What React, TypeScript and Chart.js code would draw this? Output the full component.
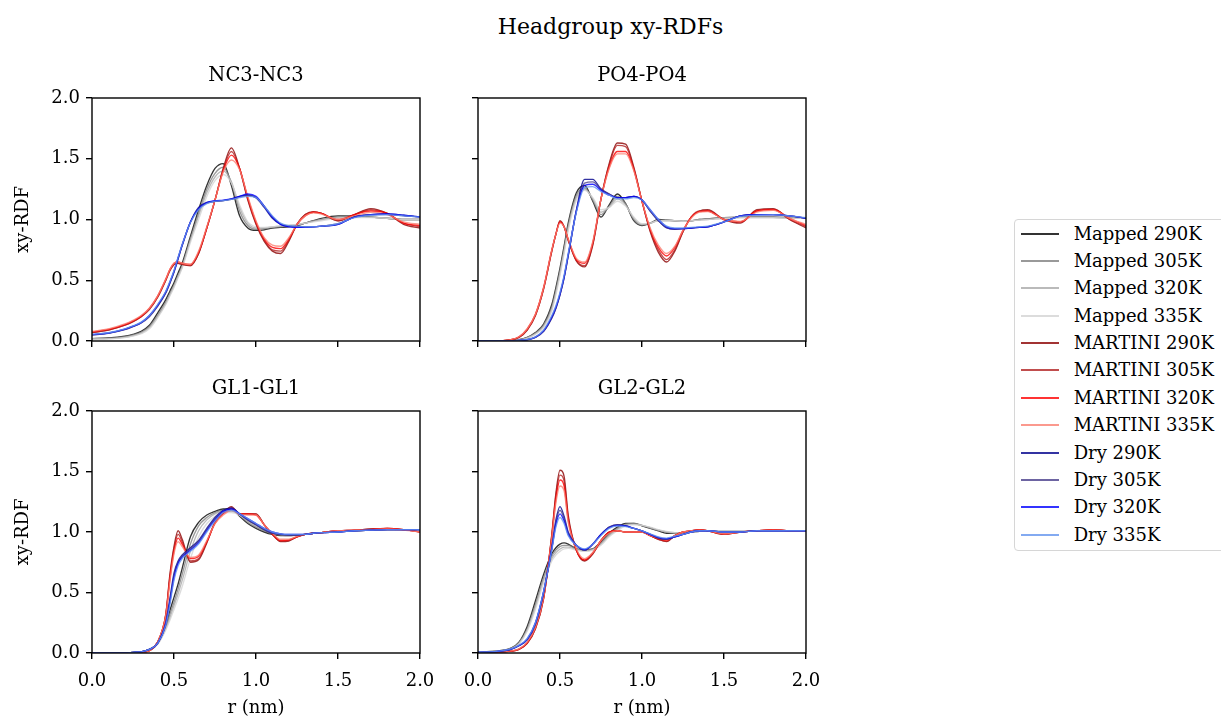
import React, { useEffect, useRef } from 'react';
import { Chart, registerables } from 'chart.js';

Chart.register(...registerables);

const FONT = "'DejaVu Serif', serif";
Chart.defaults.font.family = FONT;

// ---------- DATA ----------
const R = [0, 0.1, 0.2, 0.25, 0.3, 0.35, 0.4, 0.45, 0.475, 0.5, 0.525, 0.55, 0.6, 0.65, 0.7, 0.75, 0.8, 0.85, 0.9, 0.95, 1.0, 1.05, 1.1, 1.15, 1.2, 1.25, 1.3, 1.35, 1.4, 1.5, 1.6, 1.7, 1.8, 1.9, 2.0];

const X_TICKS = [0, 0.5, 1.0, 1.5, 2.0];
const Y_TICKS = [0, 0.5, 1.0, 1.5, 2.0];

const PANEL_TITLES = ['NC3-NC3', 'PO4-PO4', 'GL1-GL1', 'GL2-GL2'];
const SUPTITLE = 'Headgroup xy-RDFs';
const X_LABEL = 'r (nm)';
const Y_LABEL = 'xy-RDF';

const SERIES_LABELS = [
  'Mapped 290K', 'Mapped 305K', 'Mapped 320K', 'Mapped 335K',
  'MARTINI 290K', 'MARTINI 305K', 'MARTINI 320K', 'MARTINI 335K',
  'Dry 290K', 'Dry 305K', 'Dry 320K', 'Dry 335K',
];
const SERIES_COLORS = [
  'rgba(0,0,0,0.8)', 'rgba(128,128,128,0.8)', 'rgba(169,169,169,0.8)', 'rgba(211,211,211,0.8)',
  'rgba(139,0,0,0.8)', 'rgba(178,34,34,0.8)', 'rgba(255,0,0,0.8)', 'rgba(250,128,114,0.8)',
  'rgba(0,0,139,0.8)', 'rgba(72,61,139,0.8)', 'rgba(0,0,255,0.8)', 'rgba(100,149,237,0.8)',
];

// NC3-NC3
const NC3_MAPPED_290 = [0.02,0.025,0.04,0.055,0.08, 0.13,0.23,0.34,0.41,0.48, 0.56,0.64,0.86,1.08,1.28, 1.42,1.46,1.28,1.03,0.93, 0.91,0.915,0.93,0.935,0.94, 0.95,0.97,0.99,1.01,1.03, 1.03,1.02,1.01,1.0,1.0];
const NC3_MAPPED_305 = [0.02,0.022,0.035,0.05,0.072, 0.12,0.21,0.32,0.39,0.46, 0.54,0.62,0.84,1.05,1.25, 1.38,1.43,1.30,1.07,0.95, 0.92,0.925,0.935,0.94,0.945, 0.955,0.97,0.99,1.0,1.02, 1.03,1.02,1.01,1.0,1.0];
const NC3_MAPPED_320 = [0.018,0.02,0.03,0.045,0.065, 0.11,0.20,0.31,0.38,0.45, 0.53,0.61,0.83,1.03,1.22, 1.35,1.40,1.31,1.10,0.97, 0.93,0.93,0.94,0.945,0.95, 0.96,0.97,0.985,1.0,1.015, 1.02,1.02,1.01,1.0,1.0];
const NC3_MAPPED_335 = [0.015,0.018,0.028,0.04,0.06, 0.10,0.19,0.30,0.37,0.44, 0.52,0.60,0.81,1.00,1.19, 1.32,1.37,1.30,1.12,0.98, 0.94,0.935,0.94,0.95,0.955, 0.96,0.97,0.98,0.99,1.01, 1.015,1.015,1.01,1.0,1.0];
const NC3_MARTINI_290 = [0.07,0.09,0.13,0.16,0.20, 0.26,0.36,0.50,0.58,0.63, 0.64,0.63,0.62,0.72,0.93, 1.16,1.42,1.59,1.42,1.16, 0.96,0.82,0.74,0.72,0.82, 0.96,1.04,1.065,1.05,0.99, 1.04,1.09,1.05,0.96,0.93];
const NC3_MARTINI_305 = [0.07,0.09,0.13,0.16,0.20, 0.26,0.36,0.50,0.58,0.63, 0.64,0.63,0.62,0.72,0.93, 1.16,1.41,1.56,1.42,1.17, 0.97,0.83,0.75,0.74,0.83, 0.96,1.04,1.06,1.05,0.99, 1.04,1.08,1.05,0.97,0.94];
const NC3_MARTINI_320 = [0.075,0.095,0.135,0.165,0.205, 0.27,0.37,0.51,0.59,0.64, 0.65,0.64,0.63,0.73,0.93, 1.16,1.40,1.53,1.42,1.18, 0.98,0.84,0.77,0.76,0.84, 0.96,1.03,1.06,1.05,1.0, 1.04,1.07,1.05,0.97,0.95];
const NC3_MARTINI_335 = [0.08,0.10,0.14,0.17,0.21, 0.27,0.37,0.51,0.59,0.64, 0.65,0.64,0.63,0.74,0.94, 1.16,1.39,1.49,1.41,1.19, 0.99,0.85,0.79,0.78,0.85, 0.96,1.03,1.055,1.045,1.0, 1.03,1.06,1.04,0.98,0.96];
const NC3_DRY_290 = [0.05,0.065,0.095,0.12,0.15, 0.205,0.29,0.40,0.48,0.57, 0.68,0.79,0.98,1.10,1.14, 1.15,1.155,1.17,1.19,1.20, 1.18,1.10,1.01,0.96,0.945, 0.94,0.94,0.94,0.945,0.96, 1.02,1.04,1.045,1.035,1.02];
const NC3_DRY_305 = [0.05,0.063,0.093,0.118,0.148, 0.20,0.285,0.395,0.475,0.565, 0.675,0.785,0.975,1.09,1.135, 1.15,1.155,1.165,1.185,1.20, 1.18,1.11,1.02,0.965,0.945, 0.94,0.94,0.94,0.945,0.965, 1.02,1.04,1.04,1.03,1.02];
const NC3_DRY_320 = [0.052,0.066,0.097,0.122,0.152, 0.21,0.295,0.405,0.485,0.575, 0.685,0.79,0.98,1.09,1.14, 1.155,1.16,1.17,1.19,1.21, 1.19,1.11,1.02,0.96,0.94, 0.935,0.935,0.94,0.945,0.96, 1.02,1.04,1.045,1.035,1.02];
const NC3_DRY_335 = [0.055,0.068,0.1,0.125,0.155, 0.21,0.30,0.41,0.49,0.58, 0.69,0.795,0.975,1.08,1.13, 1.15,1.155,1.165,1.18,1.19, 1.18,1.11,1.03,0.97,0.95, 0.945,0.94,0.94,0.945,0.965, 1.015,1.035,1.04,1.03,1.02];

// PO4-PO4
const PO4_MAPPED_290 = [0,0,0.005,0.01,0.03, 0.07,0.14,0.30,0.44,0.60, 0.78,0.97,1.22,1.28,1.15, 1.02,1.12,1.21,1.13,0.99, 0.95,0.97,1.0,0.995,0.99, 0.985,0.99,1.0,1.005,1.015, 1.02,1.02,1.02,1.015,1.01];
const PO4_MAPPED_305 = [0,0,0.005,0.01,0.028, 0.065,0.13,0.28,0.42,0.58, 0.76,0.95,1.20,1.26,1.16, 1.04,1.11,1.19,1.13,1.0, 0.955,0.97,0.995,0.995,0.99, 0.985,0.99,1.0,1.005,1.015, 1.02,1.02,1.02,1.015,1.01];
const PO4_MAPPED_320 = [0,0,0.004,0.008,0.025, 0.06,0.12,0.26,0.40,0.56, 0.74,0.93,1.18,1.25,1.17, 1.06,1.10,1.17,1.12,1.01, 0.96,0.97,0.99,0.99,0.99, 0.985,0.99,0.995,1.0,1.01, 1.015,1.015,1.015,1.01,1.01];
const PO4_MAPPED_335 = [0,0,0.003,0.007,0.022, 0.055,0.11,0.25,0.38,0.54, 0.72,0.91,1.16,1.24,1.18, 1.08,1.10,1.15,1.11,1.02, 0.965,0.97,0.99,0.99,0.99, 0.985,0.99,0.995,1.0,1.01, 1.015,1.015,1.015,1.01,1.01];
const PO4_MARTINI_290 = [0,0,0.01,0.03,0.09, 0.21,0.43,0.74,0.88,0.99, 0.94,0.83,0.66,0.61,0.79, 1.17,1.46,1.63,1.62,1.43, 1.15,0.90,0.73,0.65,0.74, 0.90,1.02,1.07,1.08,1.0, 0.97,1.08,1.09,1.0,0.93];
const PO4_MARTINI_305 = [0,0,0.01,0.03,0.09, 0.21,0.43,0.74,0.88,0.98, 0.94,0.83,0.66,0.62,0.80, 1.17,1.45,1.61,1.60,1.42, 1.15,0.91,0.75,0.67,0.75, 0.90,1.02,1.07,1.07,1.0, 0.98,1.07,1.085,1.0,0.94];
const PO4_MARTINI_320 = [0,0.002,0.012,0.035,0.10, 0.22,0.44,0.75,0.88,0.98, 0.94,0.84,0.67,0.64,0.81, 1.17,1.43,1.56,1.56,1.41, 1.15,0.92,0.77,0.70,0.77, 0.91,1.02,1.065,1.07,1.0, 0.98,1.07,1.08,1.01,0.95];
const PO4_MARTINI_335 = [0,0.002,0.012,0.035,0.10, 0.22,0.44,0.75,0.88,0.97, 0.94,0.84,0.68,0.65,0.82, 1.17,1.42,1.54,1.54,1.40, 1.15,0.93,0.79,0.72,0.78, 0.91,1.01,1.06,1.065,1.0, 0.985,1.06,1.075,1.01,0.96];
const PO4_DRY_290 = [0,0,0,0.005,0.01, 0.03,0.08,0.19,0.27,0.38, 0.52,0.70,1.08,1.33,1.33, 1.25,1.21,1.18,1.18,1.19, 1.16,1.07,0.99,0.93,0.92, 0.925,0.93,0.935,0.94,0.98, 1.03,1.04,1.04,1.03,1.01];
const PO4_DRY_305 = [0,0,0,0.005,0.01, 0.03,0.08,0.19,0.27,0.38, 0.52,0.70,1.07,1.30,1.31, 1.25,1.21,1.18,1.18,1.19, 1.16,1.07,0.99,0.935,0.92, 0.925,0.93,0.935,0.94,0.98, 1.03,1.04,1.04,1.03,1.01];
const PO4_DRY_320 = [0,0,0,0.005,0.012, 0.032,0.085,0.20,0.28,0.39, 0.53,0.71,1.07,1.28,1.29, 1.24,1.20,1.18,1.18,1.19, 1.16,1.08,1.0,0.94,0.925, 0.925,0.93,0.935,0.94,0.98, 1.03,1.04,1.04,1.03,1.01];
const PO4_DRY_335 = [0,0,0,0.006,0.013, 0.034,0.09,0.21,0.29,0.40, 0.54,0.72,1.06,1.26,1.27, 1.23,1.20,1.17,1.17,1.18, 1.16,1.08,1.0,0.945,0.93, 0.93,0.935,0.94,0.945,0.98, 1.025,1.035,1.04,1.03,1.015];

// GL1-GL1
const GL1_MAPPED_290 = [0,0,0,0.005,0.01, 0.03,0.08,0.22,0.35,0.46, 0.57,0.70,0.96,1.08,1.14, 1.17,1.19,1.19,1.13,1.07, 1.03,1.0,0.98,0.97,0.97, 0.975,0.98,0.99,0.995,1.005, 1.01,1.015,1.02,1.02,1.02];
const GL1_MAPPED_305 = [0,0,0,0.005,0.01, 0.03,0.08,0.21,0.32,0.42, 0.53,0.65,0.90,1.05,1.12, 1.16,1.18,1.18,1.14,1.08, 1.04,1.01,0.985,0.975,0.97, 0.975,0.98,0.99,0.995,1.005, 1.01,1.015,1.02,1.02,1.02];
const GL1_MAPPED_320 = [0,0,0,0.004,0.01, 0.03,0.075,0.20,0.29,0.39, 0.49,0.60,0.84,1.01,1.10, 1.15,1.17,1.17,1.14,1.09, 1.05,1.02,0.99,0.98,0.975, 0.975,0.98,0.99,0.995,1.005, 1.01,1.015,1.02,1.02,1.02];
const GL1_MAPPED_335 = [0,0,0,0.004,0.009, 0.028,0.07,0.19,0.27,0.36, 0.45,0.55,0.78,0.96,1.07, 1.13,1.16,1.16,1.14,1.10, 1.06,1.03,1.0,0.985,0.98, 0.98,0.98,0.99,0.995,1.005, 1.01,1.015,1.02,1.02,1.02];
const GL1_MARTINI_290 = [0,0,0,0,0.005, 0.02,0.09,0.32,0.65,0.88, 1.01,0.94,0.75,0.77,0.91, 1.08,1.16,1.21,1.15,1.15, 1.15,1.06,0.98,0.92,0.925, 0.96,0.98,0.99,0.995,1.01, 1.015,1.025,1.03,1.02,1.0];
const GL1_MARTINI_305 = [0,0,0,0,0.005, 0.02,0.09,0.32,0.63,0.86, 0.98,0.92,0.76,0.78,0.92, 1.08,1.16,1.20,1.15,1.15, 1.15,1.06,0.98,0.925,0.93, 0.96,0.98,0.99,0.995,1.01, 1.015,1.025,1.03,1.02,1.0];
const GL1_MARTINI_320 = [0,0,0,0,0.005, 0.02,0.09,0.31,0.61,0.84, 0.95,0.90,0.78,0.80,0.92, 1.07,1.15,1.19,1.15,1.15, 1.14,1.06,0.985,0.93,0.935, 0.96,0.98,0.99,0.995,1.01, 1.015,1.02,1.03,1.02,1.0];
const GL1_MARTINI_335 = [0,0,0,0,0.005, 0.02,0.09,0.31,0.59,0.82, 0.92,0.88,0.79,0.81,0.93, 1.07,1.14,1.18,1.15,1.14, 1.14,1.06,0.99,0.94,0.94, 0.965,0.98,0.99,0.995,1.01, 1.015,1.02,1.025,1.015,1.0];
const GL1_DRY_290 = [0,0,0,0.005,0.01, 0.03,0.08,0.25,0.45,0.66, 0.76,0.81,0.87,0.93,1.03, 1.12,1.18,1.20,1.15,1.10, 1.06,1.02,0.99,0.98,0.975, 0.975,0.98,0.99,0.995,1.0, 1.01,1.015,1.02,1.02,1.02];
const GL1_DRY_305 = [0,0,0,0.005,0.01, 0.03,0.08,0.24,0.43,0.64, 0.75,0.80,0.86,0.92,1.02, 1.11,1.17,1.19,1.15,1.10, 1.06,1.02,0.99,0.98,0.975, 0.975,0.98,0.99,0.995,1.0, 1.01,1.015,1.02,1.02,1.02];
const GL1_DRY_320 = [0,0,0,0.005,0.01, 0.03,0.08,0.24,0.42,0.62, 0.74,0.79,0.85,0.91,1.01, 1.10,1.17,1.19,1.15,1.11, 1.07,1.03,1.0,0.985,0.98, 0.98,0.98,0.99,0.995,1.0, 1.01,1.015,1.02,1.02,1.02];
const GL1_DRY_335 = [0,0,0,0.005,0.01, 0.03,0.08,0.23,0.40,0.60, 0.72,0.78,0.84,0.90,1.0, 1.09,1.16,1.18,1.15,1.11, 1.07,1.03,1.0,0.985,0.98, 0.98,0.98,0.99,0.995,1.0, 1.01,1.015,1.02,1.02,1.02];

// GL2-GL2
const GL2_MAPPED_290 = [0.01,0.015,0.04,0.09,0.22, 0.43,0.65,0.82,0.87,0.90, 0.91,0.90,0.86,0.85,0.86, 0.92,0.99,1.04,1.07,1.07, 1.05,1.03,1.01,0.99,0.99, 0.99,1.0,1.005,1.01,1.01, 1.01,1.01,1.01,1.01,1.01];
const GL2_MAPPED_305 = [0.01,0.015,0.038,0.085,0.20, 0.40,0.62,0.80,0.85,0.88, 0.89,0.89,0.86,0.85,0.86, 0.91,0.98,1.03,1.065,1.07, 1.055,1.035,1.015,1.0,0.99, 0.99,1.0,1.005,1.01,1.01, 1.01,1.01,1.01,1.01,1.01];
const GL2_MAPPED_320 = [0.01,0.014,0.035,0.08,0.19, 0.38,0.60,0.78,0.83,0.86, 0.875,0.875,0.855,0.845,0.855, 0.90,0.97,1.02,1.06,1.065, 1.055,1.035,1.015,1.0,0.995, 0.99,1.0,1.005,1.01,1.01, 1.01,1.01,1.01,1.01,1.01];
const GL2_MAPPED_335 = [0.01,0.013,0.032,0.075,0.18, 0.36,0.58,0.76,0.81,0.84, 0.86,0.865,0.85,0.84,0.85, 0.89,0.96,1.01,1.05,1.06, 1.055,1.04,1.02,1.005,0.995, 0.99,1.0,1.005,1.01,1.01, 1.01,1.01,1.01,1.01,1.01];
const GL2_MARTINI_290 = [0,0.005,0.015,0.03,0.08, 0.20,0.45,0.98,1.32,1.51, 1.46,1.14,0.85,0.76,0.82, 0.93,1.0,1.01,1.0,1.0, 1.0,0.97,0.94,0.92,0.97, 1.0,1.01,1.02,1.01,0.98, 1.0,1.01,1.02,1.01,1.01];
const GL2_MARTINI_305 = [0,0.005,0.015,0.03,0.08, 0.20,0.45,0.97,1.30,1.47, 1.42,1.12,0.85,0.765,0.82, 0.93,1.0,1.01,1.0,1.0, 1.0,0.97,0.94,0.925,0.97, 1.0,1.01,1.02,1.01,0.98, 1.0,1.01,1.02,1.01,1.01];
const GL2_MARTINI_320 = [0,0.005,0.016,0.032,0.085, 0.21,0.46,0.96,1.27,1.43, 1.38,1.10,0.85,0.77,0.83, 0.93,1.0,1.01,1.0,1.0, 1.0,0.97,0.945,0.93,0.97, 1.0,1.01,1.02,1.01,0.985, 1.0,1.01,1.02,1.01,1.01];
const GL2_MARTINI_335 = [0,0.006,0.017,0.034,0.09, 0.21,0.46,0.95,1.24,1.38, 1.34,1.08,0.86,0.78,0.83, 0.93,0.99,1.01,1.0,1.0, 1.0,0.97,0.95,0.935,0.97, 1.0,1.01,1.015,1.01,0.985, 1.0,1.01,1.015,1.01,1.01];
const GL2_DRY_290 = [0.005,0.01,0.03,0.06,0.11, 0.24,0.50,0.87,1.10,1.21, 1.13,1.0,0.89,0.85,0.90, 0.98,1.04,1.06,1.05,1.03, 1.01,0.98,0.95,0.94,0.96, 0.98,1.0,1.01,1.01,1.0, 1.0,1.01,1.01,1.01,1.01];
const GL2_DRY_305 = [0.005,0.01,0.03,0.06,0.11, 0.24,0.50,0.86,1.08,1.18, 1.11,0.99,0.89,0.85,0.90, 0.98,1.04,1.06,1.05,1.03, 1.01,0.98,0.95,0.94,0.96, 0.98,1.0,1.01,1.01,1.0, 1.0,1.01,1.01,1.01,1.01];
const GL2_DRY_320 = [0.006,0.011,0.032,0.062,0.115, 0.25,0.51,0.86,1.06,1.15, 1.09,0.98,0.89,0.855,0.90, 0.98,1.035,1.055,1.05,1.03, 1.01,0.98,0.955,0.945,0.96, 0.98,1.0,1.01,1.01,1.0, 1.0,1.01,1.01,1.01,1.01];
const GL2_DRY_335 = [0.006,0.012,0.034,0.065,0.12, 0.25,0.51,0.85,1.04,1.12, 1.07,0.97,0.89,0.86,0.90, 0.97,1.03,1.05,1.045,1.03, 1.01,0.985,0.96,0.95,0.965, 0.98,1.0,1.01,1.01,1.0, 1.0,1.01,1.01,1.01,1.01];

const PANEL_SERIES = [
  [NC3_MAPPED_290, NC3_MAPPED_305, NC3_MAPPED_320, NC3_MAPPED_335, NC3_MARTINI_290, NC3_MARTINI_305, NC3_MARTINI_320, NC3_MARTINI_335, NC3_DRY_290, NC3_DRY_305, NC3_DRY_320, NC3_DRY_335],
  [PO4_MAPPED_290, PO4_MAPPED_305, PO4_MAPPED_320, PO4_MAPPED_335, PO4_MARTINI_290, PO4_MARTINI_305, PO4_MARTINI_320, PO4_MARTINI_335, PO4_DRY_290, PO4_DRY_305, PO4_DRY_320, PO4_DRY_335],
  [GL1_MAPPED_290, GL1_MAPPED_305, GL1_MAPPED_320, GL1_MAPPED_335, GL1_MARTINI_290, GL1_MARTINI_305, GL1_MARTINI_320, GL1_MARTINI_335, GL1_DRY_290, GL1_DRY_305, GL1_DRY_320, GL1_DRY_335],
  [GL2_MAPPED_290, GL2_MAPPED_305, GL2_MAPPED_320, GL2_MAPPED_335, GL2_MARTINI_290, GL2_MARTINI_305, GL2_MARTINI_320, GL2_MARTINI_335, GL2_DRY_290, GL2_DRY_305, GL2_DRY_320, GL2_DRY_335],
];

// ---------- LAYOUT ----------
type PanelLayout = {
  canvas: [number, number, number, number];
  area: [number, number, number, number];
  showX: boolean;
  showY: boolean;
  titleTop: number;
};
const LAYOUTS: PanelLayout[] = [
  { canvas: [0, 80, 440, 290], area: [92, 98, 420, 341], showX: false, showY: true, titleTop: 60 },
  { canvas: [440, 80, 390, 290], area: [478, 98, 806, 341], showX: false, showY: false, titleTop: 60 },
  { canvas: [0, 390, 440, 335], area: [92, 411, 420, 653], showX: true, showY: true, titleTop: 372.5 },
  { canvas: [440, 390, 390, 335], area: [478, 411, 806, 653], showX: true, showY: false, titleTop: 372.5 },
];

const TICK_SIZE = 18;
const TITLE_SIZE = 19.5;
const SUPTITLE_SIZE = 22;
const LINE_W = 1.35;

const framePlugin = {
  id: 'frame',
  afterDraw(chart: any) {
    const { ctx, chartArea } = chart;
    const { left, top, right, bottom } = chartArea;
    ctx.save();
    ctx.strokeStyle = '#000';
    ctx.lineWidth = 1.4;
    ctx.strokeRect(left, top, right - left, bottom - top);
    ctx.restore();
  },
};

function zeroPad(s: any) {
  s.paddingTop = 0;
  s.paddingBottom = 0;
  s.paddingLeft = 0;
  s.paddingRight = 0;
}

function Panel({ index }: { index: number }) {
  const ref = useRef<HTMLCanvasElement | null>(null);
  const lay = LAYOUTS[index];
  const [L, T, W, H] = lay.canvas;
  const [AL, AT, AR, AB] = lay.area;

  useEffect(() => {
    if (!ref.current) return;
    const series = PANEL_SERIES[index];
    const datasets = series.map((vals, i) => ({
      label: SERIES_LABELS[i],
      data: R.map((r, k) => ({ x: r, y: vals[k] })),
      borderColor: SERIES_COLORS[i],
      backgroundColor: SERIES_COLORS[i],
      borderWidth: LINE_W,
      pointRadius: 0,
      cubicInterpolationMode: 'monotone' as const,
      fill: false,
      order: SERIES_LABELS.length - i,
    }));
    const yWidth = AL - L;
    const xHeight = T + H - AB;
    const chart = new Chart(ref.current, {
      type: 'line',
      data: { datasets },
      plugins: [framePlugin],
      options: {
        responsive: false,
        animation: false,
        devicePixelRatio: 1,
        events: [],
        layout: { padding: { left: 0, top: AT - T, right: L + W - AR, bottom: 0 } },
        plugins: { legend: { display: false }, title: { display: false }, tooltip: { enabled: false } },
        scales: {
          x: {
            type: 'linear',
            min: 0,
            max: 2,
            afterFit: (s: any) => { s.height = xHeight; zeroPad(s); },
            afterBuildTicks: (s: any) => { s.ticks = X_TICKS.map((v) => ({ value: v })); },
            ticks: {
              autoSkip: false,
              maxRotation: 0,
              padding: 12,
              color: '#000',
              font: { size: TICK_SIZE, family: FONT },
              callback: (v: any) => (lay.showX ? Number(v).toFixed(1) : ''),
            },
            grid: { display: true, drawOnChartArea: false, drawTicks: true, tickLength: 6, color: '#000', lineWidth: 1.4 },
            border: { display: false },
            title: {
              display: lay.showX,
              text: X_LABEL,
              color: '#000',
              font: { size: TICK_SIZE, family: FONT },
              padding: { top: 0, bottom: 6 },
            },
          },
          y: {
            type: 'linear',
            min: 0,
            max: 2,
            afterFit: (s: any) => { s.width = yWidth; zeroPad(s); },
            afterBuildTicks: (s: any) => { s.ticks = Y_TICKS.map((v) => ({ value: v })); },
            ticks: {
              autoSkip: false,
              padding: 6,
              color: '#000',
              font: { size: TICK_SIZE, family: FONT },
              callback: (v: any) => (lay.showY ? Number(v).toFixed(1) : ''),
            },
            grid: { display: true, drawOnChartArea: false, drawTicks: true, tickLength: 6, color: '#000', lineWidth: 1.4 },
            border: { display: false },
            title: {
              display: lay.showY,
              text: Y_LABEL,
              color: '#000',
              font: { size: TICK_SIZE, family: FONT },
              padding: { top: 12.5, bottom: 0 },
            },
          },
        },
      } as any,
    });
    return () => chart.destroy();
  }, [index]);

  return (
    <>
      <canvas
        ref={ref}
        width={W}
        height={H}
        style={{ position: 'absolute', left: L, top: T, width: W, height: H }}
      />
      <div
        style={{
          position: 'absolute',
          left: AL,
          width: AR - AL,
          top: lay.titleTop,
          height: 30,
          lineHeight: '30px',
          textAlign: 'center',
          fontSize: TITLE_SIZE,
          fontFamily: FONT,
          color: '#000',
          whiteSpace: 'nowrap',
        }}
      >
        {PANEL_TITLES[index]}
      </div>
    </>
  );
}

function Legend() {
  const boxLeft = 1014;
  const boxTop = 219;
  const top0 = 234;
  const step = 27.35;
  return (
    <div
      style={{
        position: 'absolute',
        left: boxLeft,
        top: boxTop,
        width: 240,
        height: 332,
        border: '1.3px solid #d6d6d6',
        borderRadius: 4,
        background: '#fff',
        boxSizing: 'border-box',
      }}
    >
      {SERIES_LABELS.map((lab, i) => {
        const cy = top0 + step * i - boxTop - 1.3;
        return (
          <React.Fragment key={lab}>
            <div
              style={{
                position: 'absolute',
                left: 1021 - boxLeft - 1.3,
                top: Math.round(cy - 1),
                width: 38,
                height: 2,
                background: SERIES_COLORS[i],
              }}
            />
            <div
              style={{
                position: 'absolute',
                left: 1074 - boxLeft - 1.3,
                top: cy - 15,
                height: 30,
                lineHeight: '30px',
                fontSize: TICK_SIZE,
                fontFamily: FONT,
                color: '#000',
                whiteSpace: 'nowrap',
              }}
            >
              {lab}
            </div>
          </React.Fragment>
        );
      })}
    </div>
  );
}

export default function App() {
  return (
    <div
      style={{
        position: 'absolute',
        left: 0,
        top: 0,
        width: 1221,
        height: 717,
        overflow: 'hidden',
        background: '#fff',
        fontFamily: FONT,
      }}
    >
      <div
        style={{
          position: 'absolute',
          left: 0,
          width: 1221,
          top: 11.5,
          height: 30,
          lineHeight: '30px',
          textAlign: 'center',
          fontSize: SUPTITLE_SIZE,
          fontFamily: FONT,
          color: '#000',
        }}
      >
        {SUPTITLE}
      </div>
      {LAYOUTS.map((_, i) => (
        <Panel key={i} index={i} />
      ))}
      <Legend />
    </div>
  );
}
